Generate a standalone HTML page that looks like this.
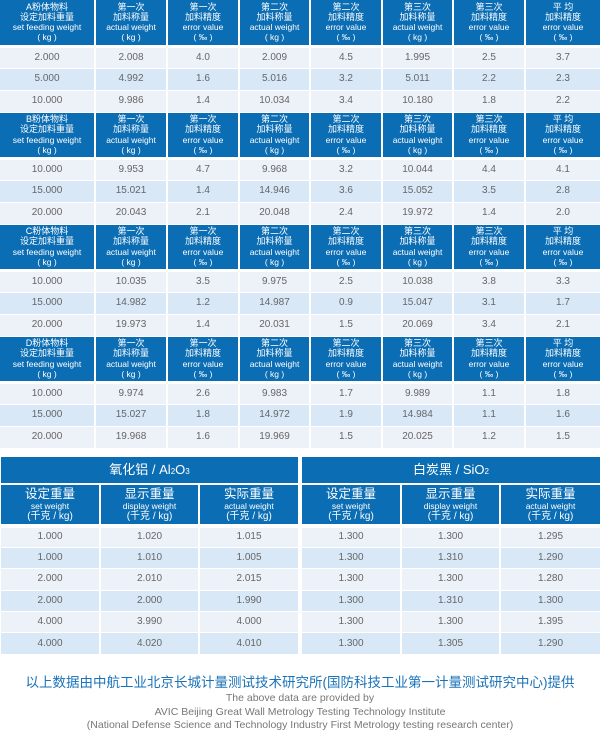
<!DOCTYPE html>
<html><head><meta charset="utf-8"><style>
*{margin:0;padding:0;box-sizing:border-box}
body{width:600px;height:732px;background:#fff;font-family:"Liberation Sans","Noto Sans CJK SC",sans-serif;overflow:hidden;position:relative}
table{border-collapse:collapse;table-layout:fixed;position:absolute}
td{text-align:center;color:#666;font-size:10px;border-right:2px solid #fff;border-bottom:1px solid #fff;padding:0;line-height:12px}
td:last-child{border-right:0}
tr.h td{background:#0b6db3;color:#fff;font-size:9px;line-height:10.2px;border-bottom:3px solid #fff}
tr.h td span{font-size:8.5px;line-height:10.2px;display:block}
tr.a td{background:#edf1f8;height:22px}
tr.b td{background:#d8e8f6;height:22px}
.bt td{font-size:10px}
.bt tr.t td{background:#0b6db3;color:#fff;font-size:13px;line-height:16px;height:27px;border-bottom:2px solid #fff}
.bt tr.h td{font-size:12.5px;line-height:14px;height:42px;border-bottom:4px solid #fff}
.bt tr.h td span{font-size:8.5px;line-height:10px}
.bt tr.h td span.c{font-size:10px;line-height:12px}
.bt tr.a td,.bt tr.b td{height:21.4px}
sub{font-size:8px;vertical-align:baseline;line-height:0}
.f{position:absolute;left:0;width:600px;text-align:center}
</style></head><body>

<table style="left:0;top:0;width:600px">
<colgroup><col style="width:95px"><col style="width:72px"><col style="width:72px"><col style="width:71px"><col style="width:72px"><col style="width:71px"><col style="width:72px"><col style="width:75px"></colgroup>
<tr class="h" style="height:46px"><td>A粉体物料<br>设定加料重量<span>set feeding weight<br>( kg )</span></td><td>第一次<br>加料称量<span>actual weight<br>( kg )</span></td><td>第一次<br>加料精度<span>error value<br>( ‰ )</span></td><td>第二次<br>加料称量<span>actual weight<br>( kg )</span></td><td>第二次<br>加料精度<span>error value<br>( ‰ )</span></td><td>第三次<br>加料称量<span>actual weight<br>( kg )</span></td><td>第三次<br>加料精度<span>error value<br>( ‰ )</span></td><td>平 均<br>加料精度<span>error value<br>( ‰ )</span></td></tr>
<tr class="a"><td>2.000</td><td>2.008</td><td>4.0</td><td>2.009</td><td>4.5</td><td>1.995</td><td>2.5</td><td>3.7</td></tr>
<tr class="b"><td>5.000</td><td>4.992</td><td>1.6</td><td>5.016</td><td>3.2</td><td>5.011</td><td>2.2</td><td>2.3</td></tr>
<tr class="a"><td>10.000</td><td>9.986</td><td>1.4</td><td>10.034</td><td>3.4</td><td>10.180</td><td>1.8</td><td>2.2</td></tr>
<tr class="h" style="height:46px"><td>B粉体物料<br>设定加料重量<span>set feeding weight<br>( kg )</span></td><td>第一次<br>加料称量<span>actual weight<br>( kg )</span></td><td>第一次<br>加料精度<span>error value<br>( ‰ )</span></td><td>第二次<br>加料称量<span>actual weight<br>( kg )</span></td><td>第二次<br>加料精度<span>error value<br>( ‰ )</span></td><td>第三次<br>加料称量<span>actual weight<br>( kg )</span></td><td>第三次<br>加料精度<span>error value<br>( ‰ )</span></td><td>平 均<br>加料精度<span>error value<br>( ‰ )</span></td></tr>
<tr class="a"><td>10.000</td><td>9.953</td><td>4.7</td><td>9.968</td><td>3.2</td><td>10.044</td><td>4.4</td><td>4.1</td></tr>
<tr class="b"><td>15.000</td><td>15.021</td><td>1.4</td><td>14.946</td><td>3.6</td><td>15.052</td><td>3.5</td><td>2.8</td></tr>
<tr class="a"><td>20.000</td><td>20.043</td><td>2.1</td><td>20.048</td><td>2.4</td><td>19.972</td><td>1.4</td><td>2.0</td></tr>
<tr class="h" style="height:46px"><td>C粉体物料<br>设定加料重量<span>set feeding weight<br>( kg )</span></td><td>第一次<br>加料称量<span>actual weight<br>( kg )</span></td><td>第一次<br>加料精度<span>error value<br>( ‰ )</span></td><td>第二次<br>加料称量<span>actual weight<br>( kg )</span></td><td>第二次<br>加料精度<span>error value<br>( ‰ )</span></td><td>第三次<br>加料称量<span>actual weight<br>( kg )</span></td><td>第三次<br>加料精度<span>error value<br>( ‰ )</span></td><td>平 均<br>加料精度<span>error value<br>( ‰ )</span></td></tr>
<tr class="a"><td>10.000</td><td>10.035</td><td>3.5</td><td>9.975</td><td>2.5</td><td>10.038</td><td>3.8</td><td>3.3</td></tr>
<tr class="b"><td>15.000</td><td>14.982</td><td>1.2</td><td>14.987</td><td>0.9</td><td>15.047</td><td>3.1</td><td>1.7</td></tr>
<tr class="a"><td>20.000</td><td>19.973</td><td>1.4</td><td>20.031</td><td>1.5</td><td>20.069</td><td>3.4</td><td>2.1</td></tr>
<tr class="h" style="height:46px"><td>D粉体物料<br>设定加料重量<span>set feeding weight<br>( kg )</span></td><td>第一次<br>加料称量<span>actual weight<br>( kg )</span></td><td>第一次<br>加料精度<span>error value<br>( ‰ )</span></td><td>第二次<br>加料称量<span>actual weight<br>( kg )</span></td><td>第二次<br>加料精度<span>error value<br>( ‰ )</span></td><td>第三次<br>加料称量<span>actual weight<br>( kg )</span></td><td>第三次<br>加料精度<span>error value<br>( ‰ )</span></td><td>平 均<br>加料精度<span>error value<br>( ‰ )</span></td></tr>
<tr class="a"><td>10.000</td><td>9.974</td><td>2.6</td><td>9.983</td><td>1.7</td><td>9.989</td><td>1.1</td><td>1.8</td></tr>
<tr class="b"><td>15.000</td><td>15.027</td><td>1.8</td><td>14.972</td><td>1.9</td><td>14.984</td><td>1.1</td><td>1.6</td></tr>
<tr class="a"><td>20.000</td><td>19.968</td><td>1.6</td><td>19.969</td><td>1.5</td><td>20.025</td><td>1.2</td><td>1.5</td></tr>
</table>

<table class="bt" style="left:1px;top:457px;width:297px">
<colgroup><col style="width:99px"><col style="width:99px"><col style="width:99px"></colgroup>
<tr class="t"><td colspan="3">氧化铝 / Al<sub>2</sub>O<sub>3</sub></td></tr>
<tr class="h"><td>设定重量<span>set weight</span><span class="c">(千克 / kg)</span></td><td>显示重量<span>display weight</span><span class="c">(千克 / kg)</span></td><td>实际重量<span>actual weight</span><span class="c">(千克 / kg)</span></td></tr>
<tr class="a"><td>1.000</td><td>1.020</td><td>1.015</td></tr>
<tr class="b"><td>1.000</td><td>1.010</td><td>1.005</td></tr>
<tr class="a"><td>2.000</td><td>2.010</td><td>2.015</td></tr>
<tr class="b"><td>2.000</td><td>2.000</td><td>1.990</td></tr>
<tr class="a"><td>4.000</td><td>3.990</td><td>4.000</td></tr>
<tr class="b"><td>4.000</td><td>4.020</td><td>4.010</td></tr>
</table>

<table class="bt" style="left:302px;top:457px;width:298px">
<colgroup><col style="width:99px"><col style="width:99px"><col style="width:100px"></colgroup>
<tr class="t"><td colspan="3">白炭黑 / SiO<sub>2</sub></td></tr>
<tr class="h"><td>设定重量<span>set weight</span><span class="c">(千克 / kg)</span></td><td>显示重量<span>display weight</span><span class="c">(千克 / kg)</span></td><td>实际重量<span>actual weight</span><span class="c">(千克 / kg)</span></td></tr>
<tr class="a"><td>1.300</td><td>1.300</td><td>1.295</td></tr>
<tr class="b"><td>1.300</td><td>1.310</td><td>1.290</td></tr>
<tr class="a"><td>1.300</td><td>1.300</td><td>1.280</td></tr>
<tr class="b"><td>1.300</td><td>1.310</td><td>1.300</td></tr>
<tr class="a"><td>1.300</td><td>1.300</td><td>1.395</td></tr>
<tr class="b"><td>1.300</td><td>1.305</td><td>1.290</td></tr>
</table>

<div class="f" style="top:675px;font-size:13.5px;line-height:16px;color:#1a72b8">以上数据由中航工业北京长城计量测试技术研究所(国防科技工业第一计量测试研究中心)提供</div>
<div class="f" style="top:692px;font-size:10.5px;color:#777;line-height:13.5px">The above data are provided by<br>AVIC Beijing Great Wall Metrology Testing Technology Institute<br>(National Defense Science and Technology Industry First Metrology testing research center)</div>
</body></html>
